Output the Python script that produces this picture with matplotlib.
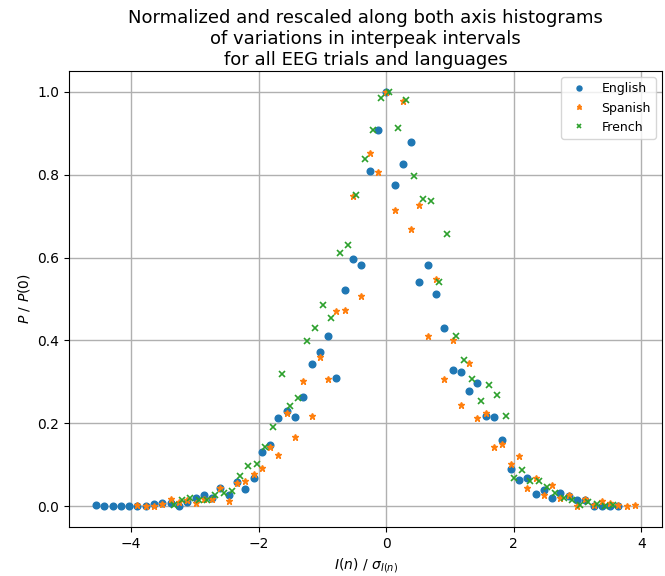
import matplotlib
matplotlib.use("Agg")
import matplotlib.pyplot as plt

# Bin centres and rescaled histogram values for each language
english_x = [-4.55, -4.42, -4.29, -4.16, -4.03, -3.90, -3.77, -3.64, -3.51, -3.38,
             -3.25, -3.12, -2.99, -2.86, -2.73, -2.60, -2.47, -2.34, -2.21, -2.08,
             -1.95, -1.82, -1.69, -1.56, -1.43, -1.30, -1.17, -1.04, -0.91, -0.78,
             -0.65, -0.52, -0.39, -0.26, -0.13, 0.00, 0.13, 0.26, 0.39, 0.52,
             0.65, 0.78, 0.91, 1.04, 1.17, 1.30, 1.43, 1.56, 1.69, 1.82,
             1.95, 2.08, 2.21, 2.34, 2.47, 2.60, 2.73, 2.86, 2.99, 3.12,
             3.25, 3.38, 3.51, 3.64]
english_y = [0.004, 0.000, 0.000, 0.001, 0.001, 0.001, 0.001, 0.005, 0.008, 0.007,
             0.001, 0.011, 0.020, 0.027, 0.020, 0.043, 0.027, 0.059, 0.041, 0.068,
             0.131, 0.148, 0.212, 0.229, 0.216, 0.264, 0.342, 0.371, 0.410, 0.310,
             0.521, 0.596, 0.583, 0.808, 0.908, 1.000, 0.775, 0.826, 0.879, 0.541,
             0.583, 0.511, 0.430, 0.329, 0.323, 0.277, 0.297, 0.218, 0.215, 0.160,
             0.089, 0.063, 0.069, 0.030, 0.040, 0.020, 0.031, 0.025, 0.014, 0.014,
             0.001, 0.001, 0.001, 0.001]

spanish_x = [-3.90, -3.77, -3.64, -3.51, -3.38, -3.25, -3.12, -2.99, -2.86, -2.73,
             -2.60, -2.47, -2.34, -2.21, -2.08, -1.95, -1.82, -1.69, -1.56, -1.43,
             -1.30, -1.17, -1.04, -0.91, -0.78, -0.65, -0.52, -0.39, -0.26, -0.13,
             0.00, 0.13, 0.26, 0.39, 0.52, 0.65, 0.78, 0.91, 1.04, 1.17,
             1.30, 1.43, 1.56, 1.69, 1.82, 1.95, 2.08, 2.21, 2.34, 2.47,
             2.60, 2.73, 2.86, 2.99, 3.12, 3.25, 3.38, 3.51, 3.64, 3.77, 3.90]
spanish_y = [0.003, 0.000, 0.000, 0.006, 0.017, 0.010, 0.015, 0.008, 0.017, 0.018,
             0.043, 0.013, 0.057, 0.062, 0.077, 0.093, 0.142, 0.124, 0.225, 0.168,
             0.301, 0.217, 0.360, 0.308, 0.471, 0.473, 0.749, 0.508, 0.853, 0.807,
             1.000, 0.714, 0.977, 0.670, 0.726, 0.411, 0.548, 0.308, 0.400, 0.244,
             0.346, 0.212, 0.224, 0.142, 0.149, 0.102, 0.121, 0.043, 0.068, 0.028,
             0.052, 0.020, 0.028, 0.001, 0.017, 0.002, 0.012, 0.007, 0.004, 0.001, 0.002]

french_x = [-3.33, -3.20, -3.07, -2.94, -2.81, -2.68, -2.55, -2.42, -2.29, -2.16,
            -2.03, -1.90, -1.77, -1.64, -1.51, -1.38, -1.25, -1.12, -0.99, -0.86,
            -0.73, -0.60, -0.47, -0.34, -0.21, -0.08, 0.05, 0.18, 0.31, 0.44,
            0.57, 0.70, 0.83, 0.96, 1.09, 1.22, 1.35, 1.48, 1.61, 1.74,
            1.87, 2.00, 2.13, 2.26, 2.39, 2.52, 2.65, 2.78, 2.91, 3.04,
            3.17, 3.30, 3.43, 3.56]
french_y = [0.004, 0.015, 0.021, 0.016, 0.015, 0.027, 0.032, 0.036, 0.072, 0.096,
            0.101, 0.142, 0.192, 0.318, 0.243, 0.262, 0.399, 0.429, 0.485, 0.454,
            0.611, 0.631, 0.752, 0.837, 0.908, 0.984, 1.000, 0.913, 0.979, 0.797,
            0.742, 0.737, 0.541, 0.656, 0.410, 0.354, 0.308, 0.253, 0.293, 0.268,
            0.217, 0.067, 0.087, 0.061, 0.062, 0.047, 0.031, 0.021, 0.015, 0.004,
            0.011, 0.006, 0.001, 0.002]

fig = plt.figure(figsize=(6.65, 5.76), dpi=100)
ax = fig.add_axes([0.1038, 0.0851, 0.8917, 0.7916])

ax.plot(english_x, english_y, 'o', color='#1f77b4', ms=4.8, label='English')
ax.plot(spanish_x, spanish_y, '*', color='#ff7f0e', ms=5, label='Spanish')
ax.plot(french_x, french_y, 'x', color='#2ca02c', ms=4, mew=1.2, label='French')

ax.grid(True, color='#b0b0b0', lw=1)
ax.set_axisbelow(True)
for s in ax.spines.values():
    s.set_color('black')
ax.set_xlabel(r'$I(n)\ /\ \sigma_{I(n)}$', fontsize=10)
ax.set_ylabel(r'$P\ /\ P(0)$', fontsize=10)
ax.set_title('Normalized and rescaled along both axis histograms\n'
             'of variations in interpeak intervals\n'
             'for all EEG trials and languages', fontsize=13, pad=4.5)
ax.legend(loc='upper right', fontsize=9, markerscale=0.75)

fig.savefig('out.png', dpi=100)
